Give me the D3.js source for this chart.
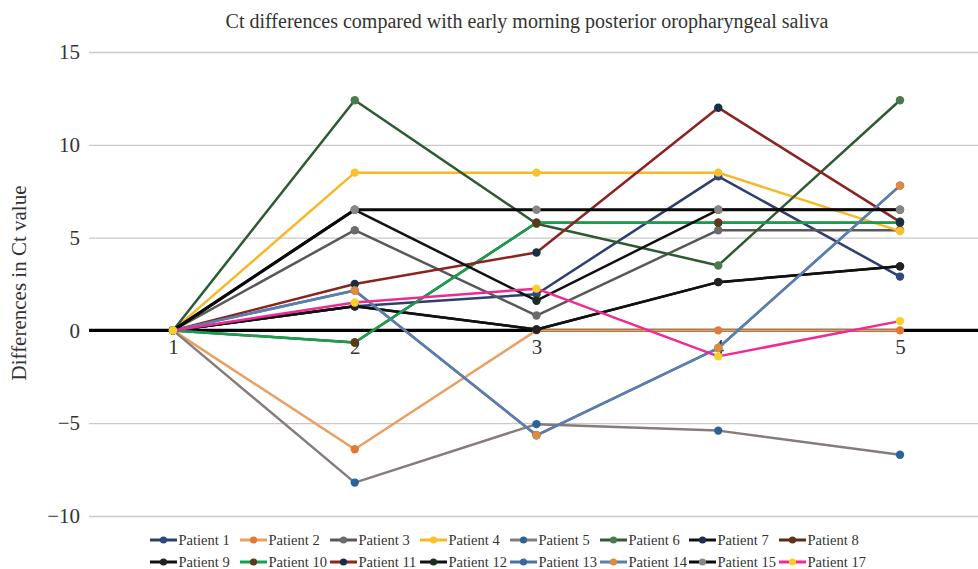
<!DOCTYPE html>
<html><head><meta charset="utf-8">
<script src="https://cdn.jsdelivr.net/npm/d3@7"></script>
<style>body{margin:0;background:#fff}svg{display:block}svg text{font-family:"Liberation Serif","DejaVu Serif",serif !important;fill:#333}</style>
</head><body><svg id="c" width="978" height="569"></svg>
<script>
const categories = [1, 2, 3, 4, 5];
const yTicks = [-10, -5, 0, 5, 10, 15];
const seriesNames = ["Patient 1","Patient 2","Patient 3","Patient 4","Patient 5","Patient 6","Patient 7","Patient 8",
  "Patient 9","Patient 10","Patient 11","Patient 12","Patient 13","Patient 14","Patient 15","Patient 17"];
const p1  = [0, 1.3, 1.95, 8.3, 2.9];
const p2  = [0, -6.4, 0, 0, 0];
const p3  = [0, 5.4, 0.8, 5.4, 5.4];
const p4  = [0, 8.5, 8.5, 8.5, 5.35];
const p5  = [0, -8.2, -5.05, -5.4, -6.7];
const p6  = [0, 12.4, 5.75, 3.5, 12.4];
const p7  = [0, 1.3, 0.05, 2.6, 3.45];
const p8  = [0, -0.65, 5.8, 5.8, 5.8];
const p9  = [0, 1.3, 0.05, 2.6, 3.45];
const p10 = [0, -0.65, 5.8, 5.8, 5.8];
const p11 = [0, 2.5, 4.2, 12.0, 5.85];
const p12 = [0, 6.5, 1.6, 6.5, 6.5];
const p13 = [0, 2.15, -5.65, -0.95, 7.8];
const p14 = [0, 2.15, -5.65, -0.95, 7.8];
const p15 = [0, 6.5, 6.5, 6.5, 6.5];
const p17 = [0, 1.5, 2.25, -1.4, 0.5];
const seriesValues = [p1,p2,p3,p4,p5,p6,p7,p8,p9,p10,p11,p12,p13,p14,p15,p17];
const lineColors = ["#2e3f6e","#e9a062","#5a5757","#f9b626","#857c7c","#2e5a33","#111111","#5c2a18",
  "#111111","#13a150","#8b2320","#111111","#4e6fa0","#5b7eab","#0a0a0a","#ee2b93"];
const markerColors = ["#2e4a7a","#e07a35","#6e6a6a","#fbc02d","#2a6496","#4b7a4f","#1f2f4a","#5c3418",
  "#222222","#5a3a18","#173048","#1e2e1e","#3a66a0","#e08a3c","#8a8686","#f9cf2c"];

const FONT = "Liberation Serif, DejaVu Serif, serif";
const svg = d3.select("#c");
const x = d3.scalePoint().domain(categories).range([173, 900]);
const y = d3.scaleLinear().domain([-10, 15]).range([516, 52]);
const left = 89, right = 978;

// title
svg.append("text").attr("x", 527).attr("y", 28).attr("text-anchor", "middle").attr("font-family", FONT)
  .style("font-size", "20px").text("Ct differences compared with early morning posterior oropharyngeal saliva");

// y title
svg.append("text").attr("transform", "translate(26,283) rotate(-90)").attr("text-anchor", "middle").attr("font-family", FONT)
  .style("font-size", "21px").text("Differences in Ct value");

// gridlines
const yAxis = d3.axisLeft(y).tickValues(yTicks).tickSize(-(right - left)).tickPadding(10)
  .tickFormat(d => d < 0 ? "\u2212" + Math.abs(d) : String(d));
const gy = svg.append("g").attr("transform", `translate(${left},0)`).call(yAxis).attr("font-family", FONT);
gy.select(".domain").remove();
gy.selectAll(".tick line").attr("stroke", "#c9c9c9").attr("stroke-width", 1.3);
gy.selectAll(".tick text").style("font-size", "21px").attr("fill", "#333").attr("x", -9);

// zero axis line
svg.append("line").attr("x1", left).attr("x2", right).attr("y1", y(0)).attr("y2", y(0))
  .attr("stroke", "#000").attr("stroke-width", 3.2);

// x labels
const xAxis = d3.axisBottom(x).tickSize(0).tickPadding(9);
const gx = svg.append("g").attr("transform", `translate(0,${y(0)})`).call(xAxis).attr("font-family", FONT);
gx.select(".domain").remove();
gx.selectAll(".tick text").style("font-size", "21px").attr("fill", "#333");

// series
const line = d3.line().x((d, i) => x(categories[i])).y(d => y(d));
seriesValues.forEach((vals, s) => {
  const g = svg.append("g");
  g.append("path").attr("d", line(vals)).attr("fill", "none")
    .attr("stroke", lineColors[s]).attr("stroke-width", s === 14 ? 3.2 : 2.5).attr("stroke-linejoin", "round");
  g.selectAll("circle").data(vals).join("circle")
    .attr("cx", (d, i) => x(categories[i])).attr("cy", d => y(d)).attr("r", 4.2)
    .attr("fill", markerColors[s]);
});

// legend
const legX = [150, 240, 330, 420, 510, 600, 689, 779];
const legY = [540, 562];
seriesNames.forEach((name, s) => {
  const col = s % 8, row = Math.floor(s / 8);
  const lx = legX[col], ly = legY[row];
  const g = svg.append("g").attr("transform", `translate(${lx},${ly})`);
  g.append("line").attr("x1", 0).attr("x2", 27).attr("y1", 0).attr("y2", 0)
    .attr("stroke", lineColors[s]).attr("stroke-width", 3);
  g.append("circle").attr("cx", 13.5).attr("cy", 0).attr("r", 3.6).attr("fill", markerColors[s]);
  g.append("text").attr("x", 28.5).attr("y", 4.5).attr("font-family", FONT).style("font-size", "14.5px").text(name);
});
</script></body></html>
